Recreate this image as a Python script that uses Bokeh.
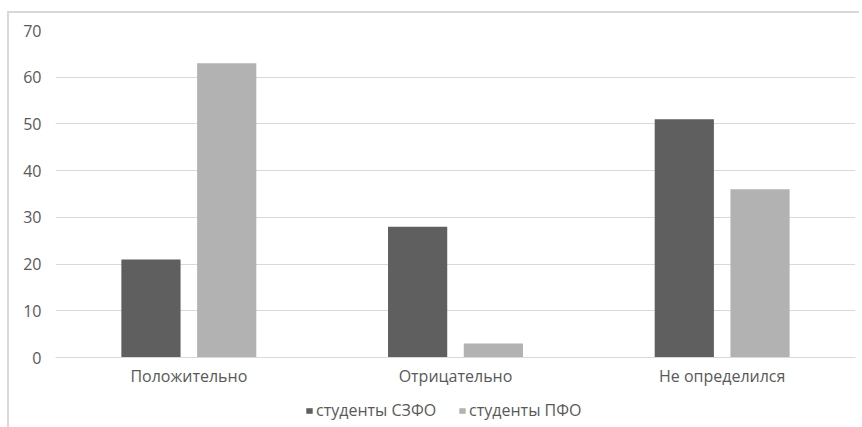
from bokeh.plotting import figure
from bokeh.layouts import column
from bokeh.models import FactorRange, Range1d, Legend, LegendItem, ColumnDataSource
from bokeh.transform import dodge
from bokeh.embed import file_html
from bokeh.resources import INLINE

categories = ["Положительно", "Отрицательно", "Не определился"]
szfo = [21, 28, 51]
pfo = [63, 3, 36]
series_names = ["студенты СЗФО", "студенты ПФО"]
y_ticks = [0, 10, 20, 30, 40, 50, 60, 70]
colors = ["#5f5f5f", "#b2b2b2"]

source = ColumnDataSource(dict(cat=categories, szfo=szfo, pfo=pfo))

FONT = "Open Sans"
TXT = "#595959"

p = figure(x_range=FactorRange(*categories), y_range=Range1d(0, 70),
           width=850, height=378, output_backend="svg", toolbar_location=None,
           min_border_left=46, min_border_right=4, min_border_top=17, min_border_bottom=34)

p.vbar(x=dodge("cat", -0.142, range=p.x_range), top="szfo", width=0.222,
       source=source, color=colors[0], line_color=None)
p.vbar(x=dodge("cat", 0.142, range=p.x_range), top="pfo", width=0.222,
       source=source, color=colors[1], line_color=None)

p.outline_line_color = None
p.xgrid.grid_line_color = None
p.ygrid.grid_line_color = "#d9d9d9"
p.ygrid.grid_line_width = 1
p.yaxis.ticker = y_ticks

for ax in (p.xaxis[0], p.yaxis[0]):
    ax.axis_line_color = None
    ax.major_tick_line_color = None
    ax.minor_tick_line_color = None
    ax.major_tick_out = 0
    ax.major_tick_in = 0
    ax.major_label_text_font = FONT
    ax.major_label_text_font_size = "16px"
    ax.major_label_text_color = TXT
p.yaxis.major_label_standoff = 14
p.xaxis.major_label_standoff = 7
p.xaxis.axis_line_color = "#d9d9d9"

# legend strip below the chart; its swatch renderers have zero size
leg = figure(x_range=Range1d(0, 1), y_range=Range1d(0, 1),
             width=850, height=36, output_backend="svg", toolbar_location=None,
             min_border_left=0, min_border_right=0, min_border_top=0, min_border_bottom=0)
leg.axis.visible = False
leg.grid.visible = False
leg.outline_line_color = None
swatch = ColumnDataSource(dict(x=[0.5], top=[0]))
l1 = leg.vbar(x="x", top="top", width=0, source=swatch, color=colors[0], line_color=None)
l2 = leg.vbar(x="x", top="top", width=0, source=swatch, color=colors[1], line_color=None)
legend = Legend(items=[LegendItem(label=series_names[0], renderers=[l1]),
                       LegendItem(label=series_names[1], renderers=[l2])],
                orientation="horizontal", location=(250, 6),
                label_text_font=FONT, label_text_font_size="16px", label_text_color=TXT,
                glyph_width=8, glyph_height=7, label_standoff=3, spacing=22,
                padding=0, margin=0, border_line_color=None, background_fill_alpha=0)
leg.add_layout(legend, "center")

layout = column(p, leg, spacing=0)
layout.styles = {"border-left": "2px solid #d9d9d9", "border-top": "2px solid #d9d9d9",
                 "margin-top": "11px", "margin-left": "7px"}

open("out.html", "w").write(file_html(layout, INLINE))
